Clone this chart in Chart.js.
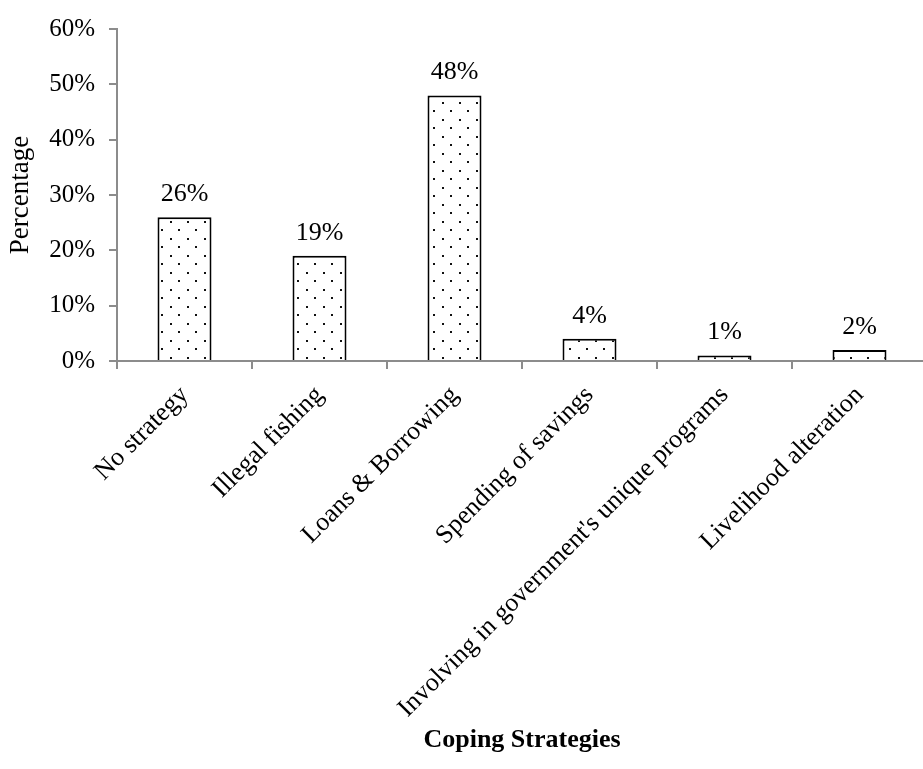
<!DOCTYPE html>
<html><head><meta charset="utf-8">
<script src="https://cdn.jsdelivr.net/npm/chart.js@4/dist/chart.umd.min.js"></script>
<style>html,body{margin:0;padding:0;overflow:hidden;background:#fff;width:923px;height:769px}</style>
</head><body>
<canvas id="c" width="927" height="769" style="display:block;width:927px;height:769px"></canvas>
<script>
const categories = ["No strategy", "Illegal fishing", "Loans & Borrowing", "Spending of savings", "Involving in government's unique programs", "Livelihood alteration"];
const percentages = [26, 19, 48, 4, 1, 2];
const yTickMax = 60;
const yTickStep = 10;
const xTitle = "Coping Strategies";
const yTitle = "Percentage";

const FONT = '"Liberation Serif", "Times New Roman", serif';
const AXIS = '#8c8c8c';

function dotPattern() {
  const c = document.createElement('canvas');
  c.width = 17; c.height = 17;
  const g = c.getContext('2d');
  g.fillStyle = '#fff'; g.fillRect(0, 0, 17, 17);
  g.fillStyle = '#111';
  g.fillRect(0, 0, 2, 2);
  g.fillRect(8, 8, 2, 2);
  return g.createPattern(c, 'repeat');
}

const valueLabels = {
  id: 'valueLabels',
  afterDatasetsDraw(chart) {
    const ctx = chart.ctx;
    const meta = chart.getDatasetMeta(0);
    ctx.save();
    ctx.font = '26px ' + FONT;
    ctx.fillStyle = '#000';
    ctx.textAlign = 'center';
    ctx.textBaseline = 'alphabetic';
    meta.data.forEach((bar, i) => {
      ctx.fillText(percentages[i] + '%', bar.x, bar.y - 16);
    });
    ctx.restore();
  }
};

new Chart(document.getElementById('c'), {
  type: 'bar',
  data: {
    labels: categories,
    datasets: [{
      data: percentages,
      backgroundColor: dotPattern(),
      borderColor: '#000',
      borderWidth: 2,
      barPercentage: 0.4,
      categoryPercentage: 1.0
    }]
  },
  plugins: [valueLabels],
  options: {
    responsive: false,
    devicePixelRatio: 1,
    animation: false,
    layout: { padding: { top: 23, left: 0, right: 0, bottom: 0 } },
    plugins: { legend: { display: false }, tooltip: { enabled: false } },
    scales: {
      x: {
        afterFit(s) { s.height = 408; },
        grid: { drawOnChartArea: false, drawTicks: true, tickLength: 8, color: AXIS, lineWidth: 2, offset: true },
        border: { display: true, color: AXIS, width: 2 },
        ticks: { color: '#000', font: { family: FONT, size: 26 }, minRotation: 45, maxRotation: 45, autoSkip: false, padding: 11 },
        title: { display: true, text: xTitle, color: '#000', font: { family: FONT, size: 26, weight: 'bold' }, padding: { top: 0, bottom: 13 } }
      },
      y: {
        min: 0, max: yTickMax,
        afterFit(s) { s.width = 117; },
        grid: { drawOnChartArea: false, drawTicks: true, tickLength: 8, color: AXIS, lineWidth: 2 },
        border: { display: true, color: AXIS, width: 2 },
        ticks: { stepSize: yTickStep, color: '#000', font: { family: FONT, size: 25 }, padding: 14, callback: v => v + '%' },
        title: { display: true, text: yTitle, color: '#000', font: { family: FONT, size: 27 }, padding: { top: 5, bottom: 0 } }
      }
    }
  }
});
</script>
</body></html>
